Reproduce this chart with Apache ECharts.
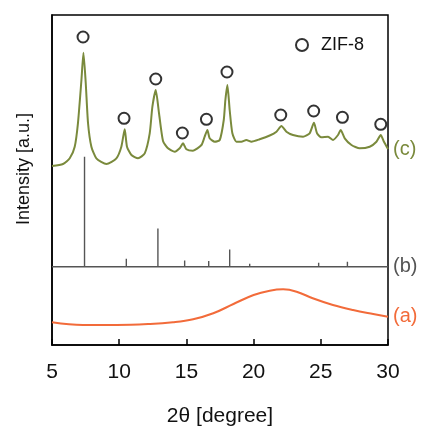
<!DOCTYPE html>
<html>
<head>
<meta charset="utf-8">
<script src="https://cdn.jsdelivr.net/npm/echarts@6/dist/echarts.min.js"></script>
<style>
html,body{margin:0;padding:0;background:#fff;}
#chart{width:422px;height:426px;}
</style>
</head>
<body>
<div id="chart"></div>
<script>
// (c) ZIF-8 measured pattern: 2theta and intensity (stacked, arbitrary units)
const cTheta = [5.0, 5.82, 6.32, 6.69, 6.93, 7.19, 7.34, 7.51, 7.68, 7.93, 8.30, 9.05, 9.79, 10.16, 10.41, 10.58, 10.91, 11.40, 11.90, 12.27, 12.47, 12.72, 12.96, 13.26, 13.63, 14.13, 14.50, 14.75, 15.00, 15.49, 16.12, 16.36, 16.56, 16.73, 17.11, 17.48, 17.78, 17.90, 18.05, 18.22, 18.42, 18.72, 19.09, 19.46, 19.84, 20.45, 21.20, 21.70, 22.07, 22.44, 22.93, 23.68, 24.17, 24.49, 24.72, 25.04, 25.54, 25.91, 26.28, 26.48, 26.78, 27.28, 27.89, 28.64, 29.14, 29.46, 29.70, 30.0];
const cInt = [179, 181, 186.7, 198.3, 221.7, 265, 292.3, 262, 222, 198.3, 186.7, 181, 186.7, 198.3, 215.7, 198.3, 190, 186.7, 191.7, 211.7, 238.3, 255, 232, 204, 196.7, 193.3, 196.7, 201.7, 195.7, 194.3, 200, 208.3, 215, 206.7, 203.3, 205, 225, 245, 260, 235, 211.7, 203.3, 203.3, 205, 203.3, 205.7, 209.5, 213.3, 219, 213.3, 210, 208.3, 211.7, 222.3, 211.7, 207.7, 208.3, 205, 210, 215, 206.7, 200, 196.7, 198.3, 203.3, 210, 203.3, 196];

// (b) simulated ZIF-8 stick pattern
const bBase = 78.3;
const bTheta = [7.42, 10.53, 12.88, 14.87, 16.66, 18.22, 19.71, 21.07, 22.39, 23.68, 24.84, 26.98];
const bHeight = [110, 8, 38.3, 6.3, 5.6, 17.3, 3, 1, 2, 1, 4, 5];

// (a) amorphous pattern
const aTheta = [5.0, 7.3, 9.8, 12.3, 14.0, 15.5, 17.0, 18.5, 20.0, 21.2, 22.2, 23.2, 24.4, 25.9, 27.4, 28.9, 30.0];
const aInt = [22.7, 20, 20, 21, 22.7, 25.7, 31.7, 41, 50, 54.3, 55.7, 53.3, 46.7, 40, 35, 31, 28.3];

// ZIF-8 peak markers
const mTheta = [7.31, 10.36, 12.72, 14.70, 16.49, 18.02, 22.02, 24.47, 26.61, 29.46];
const mInt = [308, 226.7, 266, 212, 225.7, 273, 230, 234, 227.7, 220.7];

const labels = {a: '(a)', b: '(b)', c: '(c)'};

const zip = (xs, ys) => xs.map((x, i) => [x, ys[i]]);

const stickData = [[5, bBase]];
bTheta.forEach((t, i) => {
  stickData.push([t, bBase], [t, bBase + bHeight[i]], [t, bBase]);
});
stickData.push([30, bBase]);

const FONT = 'Liberation Sans, Arial, sans-serif';
const chart = echarts.init(document.getElementById('chart'), null, {renderer: 'canvas'});
chart.setOption({
  animation: false,
  backgroundColor: '#fff',
  grid: {left: 52, right: 34, top: 15, bottom: 81, outerBoundsMode: 'none', containLabel: false,
    show: true, borderColor: '#000', borderWidth: 1.5, backgroundColor: 'transparent'},
  legend: {
    data: ['ZIF-8'], left: 290, top: 31, itemWidth: 28, itemHeight: 12,
    textStyle: {fontFamily: FONT, fontSize: 18, color: '#111'}
  },
  xAxis: {
    type: 'value', min: 5, max: 30, interval: 5,
    name: '2θ [degree]', nameLocation: 'middle', nameGap: 61,
    nameTextStyle: {fontFamily: FONT, fontSize: 21, color: '#111'},
    axisLine: {lineStyle: {color: '#000', width: 1.5}},
    axisTick: {inside: true, length: 6, lineStyle: {color: '#000', width: 1.5}},
    axisLabel: {fontFamily: FONT, fontSize: 21, color: '#111', margin: 17},
    splitLine: {show: false}
  },
  yAxis: {
    type: 'value', min: 0, max: 330,
    name: 'Intensity [a.u.]', nameLocation: 'middle', nameGap: 19, nameRotate: 90,
    nameTextStyle: {fontFamily: FONT, fontSize: 18, color: '#111', padding: [0, 0, 0, 22]},
    axisLine: {show: true, lineStyle: {color: '#000', width: 1.5}},
    axisTick: {show: false}, axisLabel: {show: false}, splitLine: {show: false}
  },
  series: [
    {
      name: 'a', type: 'line', data: zip(aTheta, aInt), smooth: 0.4, showSymbol: false,
      lineStyle: {color: '#F26B3A', width: 2}, itemStyle: {color: '#F26B3A'},
      endLabel: {show: true, formatter: labels.a, distance: 5, fontFamily: FONT, fontSize: 20, color: '#F26B3A'}
    },
    {
      name: 'b', type: 'line', data: stickData, showSymbol: false,
      lineStyle: {color: '#555', width: 1.4}, itemStyle: {color: '#555'},
      endLabel: {show: true, formatter: labels.b, distance: 5, fontFamily: FONT, fontSize: 20, color: '#555'}
    },
    {
      name: 'c', type: 'line', data: zip(cTheta, cInt), smooth: 0.2, showSymbol: false,
      lineStyle: {color: '#7A8A3C', width: 2}, itemStyle: {color: '#7A8A3C'},
      endLabel: {show: true, formatter: labels.c, distance: 5, fontFamily: FONT, fontSize: 20, color: '#7A8A3C'}
    },
    {
      name: 'ZIF-8', type: 'scatter', data: zip(mTheta, mInt), symbol: 'circle', symbolSize: 11,
      itemStyle: {color: '#fff', borderColor: '#000', borderWidth: 2}, z: 5
    }
  ]
});
</script>
</body>
</html>
